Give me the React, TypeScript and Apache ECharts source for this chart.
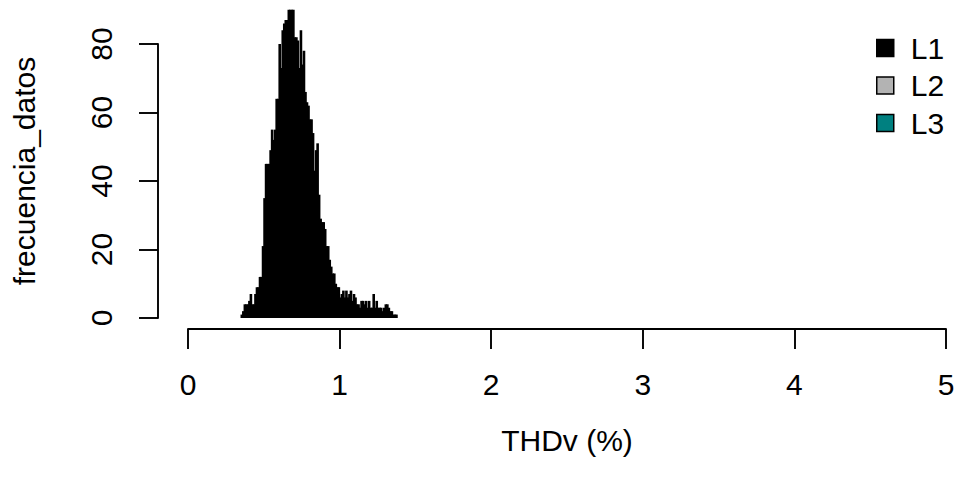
import React, { useEffect, useRef } from "react";
import * as echarts from "echarts";

// Histogram bin midpoints (THDv %, bin width 0.01)
const binMids: number[] = [
  0.355, 0.365, 0.375, 0.385, 0.395, 0.405, 0.415, 0.425, 0.435, 0.445,
  0.455, 0.465, 0.475, 0.485, 0.495, 0.505, 0.515, 0.525, 0.535, 0.545,
  0.555, 0.565, 0.575, 0.585, 0.595, 0.605, 0.615, 0.625, 0.635, 0.645,
  0.655, 0.665, 0.675, 0.685, 0.695, 0.705, 0.715, 0.725, 0.735, 0.745,
  0.755, 0.765, 0.775, 0.785, 0.795, 0.805, 0.815, 0.825, 0.835, 0.845,
  0.855, 0.865, 0.875, 0.885, 0.895, 0.905, 0.915, 0.925, 0.935, 0.945,
  0.955, 0.965, 0.975, 0.985, 0.995, 1.005, 1.015, 1.025, 1.035, 1.045,
  1.055, 1.065, 1.075, 1.085, 1.095, 1.105, 1.115, 1.125, 1.135, 1.145,
  1.155, 1.165, 1.175, 1.185, 1.195, 1.205, 1.215, 1.225, 1.235, 1.245,
  1.255, 1.265, 1.275, 1.285, 1.295, 1.305, 1.315, 1.325, 1.335, 1.345,
  1.355, 1.365, 1.375,
];

// Frequencies for L1
const freqL1: number[] = [
  1, 2, 4, 4, 4, 5, 7, 4, 4, 7,
  9, 9, 12, 12, 21, 35, 45, 45, 45, 49,
  55, 52, 55, 64, 64, 80, 73, 84, 86, 87,
  87, 90, 90, 90, 90, 82, 82, 81, 73, 84,
  74, 78, 66, 63, 62, 58, 58, 54, 43, 49,
  51, 36, 29, 28, 28, 26, 21, 21, 17, 15,
  13, 13, 10, 9, 9, 6, 7, 8, 6, 8,
  6, 7, 8, 5, 7, 6, 4, 4, 3, 5,
  5, 4, 5, 3, 5, 3, 3, 7, 3, 5,
  3, 3, 3, 2, 3, 4, 4, 3, 2, 2,
  1, 1, 1,
];

const seriesNames: string[] = ["L1", "L2", "L3"];
const seriesColors: string[] = ["#000000", "#B3B3B3", "#008080"];
const xTicks: number[] = [0, 1, 2, 3, 4, 5];
const yTicks: number[] = [0, 20, 40, 60, 80];

const FONT = "'Liberation Sans', Arial, Helvetica, sans-serif";

export default function App() {
  const ref = useRef<HTMLDivElement>(null);

  useEffect(() => {
    if (!ref.current) return;
    const chart = echarts.init(ref.current, null, { renderer: "svg" });

    const l1Data = binMids.map((x, i) => [x, freqL1[i]]);

    const option: any = {
      animation: false,
      backgroundColor: "#ffffff",
      textStyle: { fontFamily: FONT, color: "#000" },
      grid: { left: 188, right: 18, top: 44, bottom: 168, containLabel: false },
      xAxis: {
        type: "value",
        min: xTicks[0],
        max: xTicks[xTicks.length - 1],
        interval: 1,
        offset: 11,
        name: "THDv (%)",
        nameLocation: "middle",
        nameGap: 96,
        nameTextStyle: { fontSize: 30, color: "#000", fontFamily: FONT },
        axisLine: { show: true, onZero: false, lineStyle: { color: "#000", width: 1.9 } },
        axisTick: { show: true, length: 20, lineStyle: { color: "#000", width: 1.9 } },
        axisLabel: { fontSize: 30, color: "#000", margin: 40, fontFamily: FONT },
        splitLine: { show: false },
      },
      yAxis: {
        type: "value",
        min: yTicks[0],
        max: yTicks[yTicks.length - 1],
        interval: 20,
        offset: 30,
        axisLine: { show: true, onZero: false, lineStyle: { color: "#000", width: 1.9 } },
        axisTick: { show: true, length: 19, lineStyle: { color: "#000", width: 1.9 } },
        axisLabel: { fontSize: 30, color: "#000", margin: 42, rotate: 90, fontFamily: FONT },
        splitLine: { show: false },
      },
      legend: {
        orient: "vertical",
        left: 871,
        top: 28,
        icon: "rect",
        itemWidth: 17,
        itemHeight: 17,
        itemGap: 7.5,
        selectedMode: false,
        itemStyle: { borderColor: "#000", borderWidth: 1.5 },
        textStyle: { fontSize: 30, color: "#000", fontFamily: FONT, padding: [0, 0, 0, 12] },
        data: seriesNames,
      },
      graphic: [
        {
          type: "text",
          x: 24.5,
          y: 171,
          rotation: Math.PI / 2,
          style: {
            text: "frecuencia_datos",
            font: `30px ${FONT}`,
            fill: "#000",
            textAlign: "center",
            textVerticalAlign: "middle",
          },
        },
      ],
      series: [
        {
          name: seriesNames[0],
          type: "bar",
          data: l1Data,
          barWidth: 2.6,
          barGap: "-100%",
          clip: false,
          itemStyle: { color: seriesColors[0] },
        },
        {
          name: seriesNames[1],
          type: "bar",
          data: [],
          barWidth: 2.6,
          barGap: "-100%",
          itemStyle: { color: seriesColors[1] },
        },
        {
          name: seriesNames[2],
          type: "bar",
          data: [],
          barWidth: 2.6,
          barGap: "-100%",
          itemStyle: { color: seriesColors[2] },
        },
      ],
    };

    chart.setOption(option);
    return () => chart.dispose();
  }, []);

  return (
    <div
      ref={ref}
      style={{ position: "fixed", left: 0, top: 0, width: 964, height: 486, background: "#fff" }}
    />
  );
}
